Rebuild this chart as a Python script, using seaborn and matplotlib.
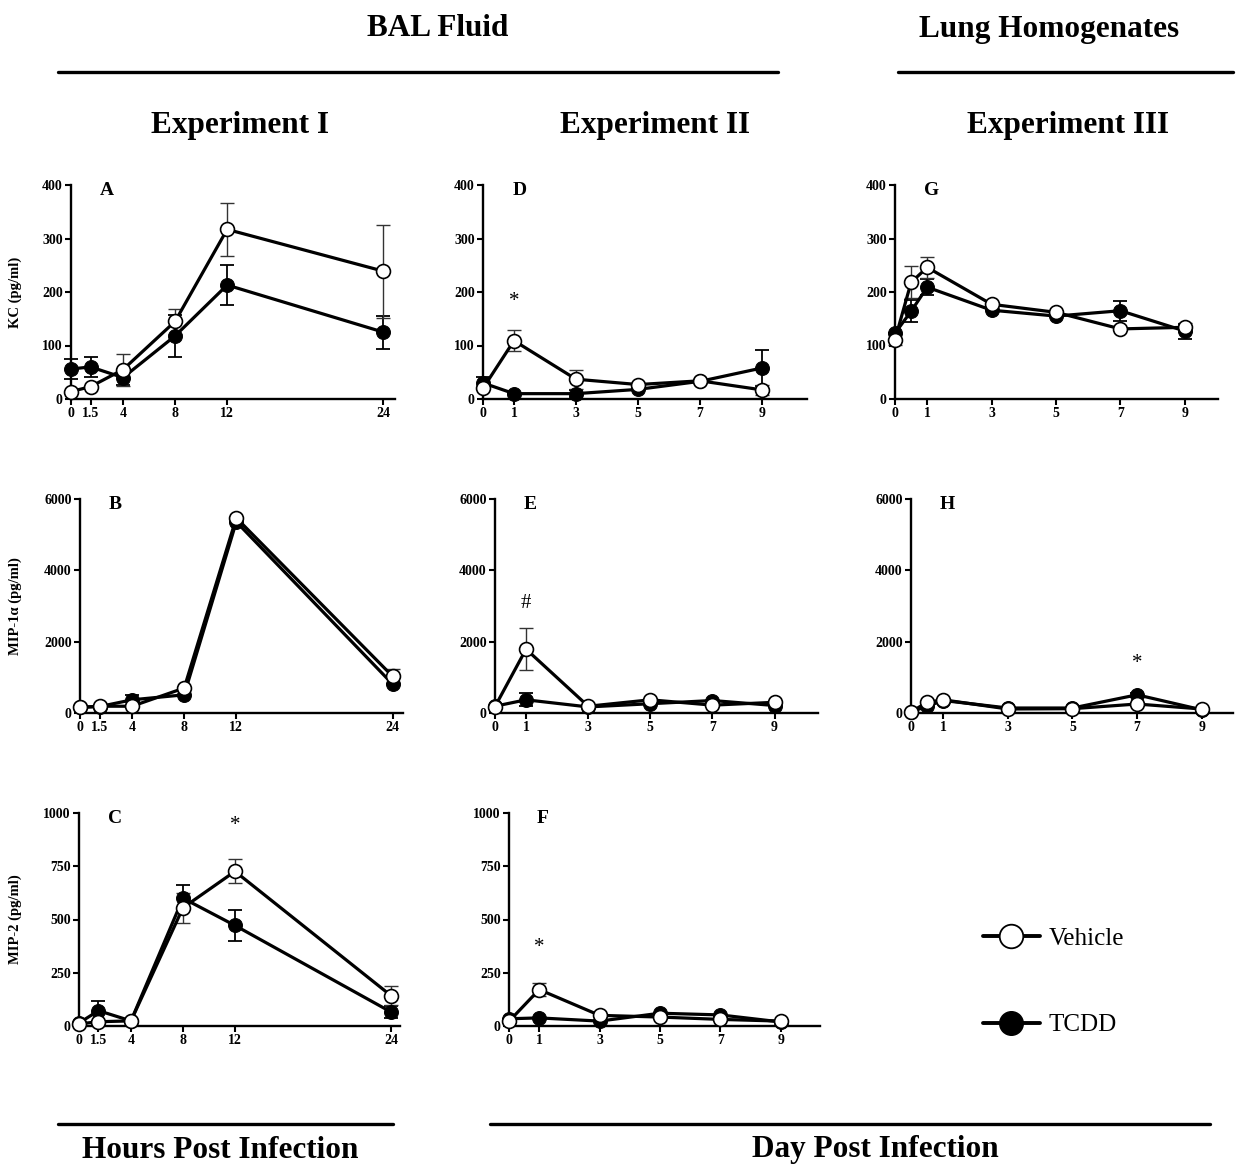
import matplotlib
matplotlib.use("Agg")
import matplotlib.pyplot as plt
from matplotlib.lines import Line2D
import pandas as pd
import seaborn as sns

sns.set_style("ticks")
plt.rcParams['font.family'] = ['Liberation Serif', 'DejaVu Serif']
plt.rcParams['font.weight'] = 'bold'
plt.rcParams['text.color'] = 'black'
plt.rcParams['axes.labelcolor'] = 'black'
plt.rcParams['axes.edgecolor'] = 'black'
plt.rcParams['xtick.color'] = 'black'
plt.rcParams['ytick.color'] = 'black'

hours = [0, 1.5, 4, 8, 12, 24]
days = [0, 1, 3, 5, 7, 9]
days_lung = [0, 0.5, 1, 3, 5, 7, 9]

# Experiment I (BAL, hours)
kc_veh_1 = [14, 23, 55, 145, 317, 239]
kc_veh_1_err = [0, 0, 30, 23, 50, 87]
kc_tcdd_1 = [56, 60, 40, 118, 213, 125]
kc_tcdd_1_err = [18, 18, 14, 39, 37, 31]

mip1a_veh_1 = [160, 190, 190, 700, 5470, 1030]
mip1a_veh_1_err = [0, 0, 0, 0, 0, 190]
mip1a_tcdd_1 = [160, 180, 370, 510, 5360, 810]
mip1a_tcdd_1_err = [0, 0, 140, 0, 0, 0]

mip2_veh_1 = [10, 20, 24, 555, 726, 143]
mip2_veh_1_err = [0, 0, 0, 70, 56, 44]
mip2_tcdd_1 = [14, 72, 24, 600, 472, 66]
mip2_tcdd_1_err = [0, 47, 0, 63, 74, 30]

# Experiment II (BAL, days)
kc_veh_2 = [20, 109, 37, 27, 34, 17]
kc_veh_2_err = [0, 20, 18, 0, 0, 10]
kc_tcdd_2 = [30, 10, 10, 18, 33, 58]
kc_tcdd_2_err = [12, 0, 6, 0, 0, 33]

mip1a_veh_2 = [180, 1790, 190, 370, 220, 300]
mip1a_veh_2_err = [0, 590, 0, 0, 0, 0]
mip1a_tcdd_2 = [190, 370, 170, 260, 350, 210]
mip1a_tcdd_2_err = [0, 180, 0, 0, 0, 0]

mip2_veh_2 = [22, 171, 50, 42, 31, 23]
mip2_veh_2_err = [0, 31, 0, 0, 0, 0]
mip2_tcdd_2 = [34, 38, 23, 60, 52, 19]
mip2_tcdd_2_err = [0, 0, 0, 0, 0, 0]

# Experiment III (lung homogenates, days)
kc_veh_3 = [111, 218, 246, 177, 162, 131, 134]
kc_veh_3_err = [10, 30, 20, 0, 0, 0, 8]
kc_tcdd_3 = [123, 164, 209, 166, 155, 165, 127]
kc_tcdd_3_err = [0, 21, 15, 0, 0, 19, 14]

mip1a_veh_3 = [30, 300, 370, 112, 121, 252, 112]
mip1a_veh_3_err = [0, 0, 0, 0, 0, 0, 0]
mip1a_tcdd_3 = [30, 190, 350, 140, 140, 510, 90]
mip1a_tcdd_3_err = [0, 0, 0, 0, 0, 50, 0]

fig = plt.figure(figsize=(12.36, 11.66), dpi=100)
W, H = 1236, 1166


def make_ax(left, right, top, bottom):
    return fig.add_axes([left / W, 1 - bottom / H, (right - left) / W, (bottom - top) / H])


def draw_panel(ax, x, veh, veh_err, tcdd, tcdd_err, xmax, yticks, xticks, letter, mark=None):
    df = pd.DataFrame({'x': x + x, 'y': tcdd + veh,
                       'group': ['TCDD'] * len(x) + ['Vehicle'] * len(x)})
    ax.errorbar(x, tcdd, yerr=tcdd_err, fmt='none', ecolor='black', elinewidth=1.3,
                capsize=4.8, capthick=1.3, zorder=2, clip_on=False)
    ax.errorbar(x, veh, yerr=veh_err, fmt='none', ecolor='#333333', elinewidth=1.0,
                capsize=4.8, capthick=1.0, zorder=2, clip_on=False)
    sns.lineplot(data=df[df.group == 'TCDD'], x='x', y='y', ax=ax, color='black', lw=2.3,
                 marker='o', markersize=10, markerfacecolor='black', markeredgecolor='black',
                 clip_on=False, zorder=3)
    sns.lineplot(data=df[df.group == 'Vehicle'], x='x', y='y', ax=ax, color='black', lw=2.3,
                 marker='o', markersize=10, markerfacecolor='white', markeredgecolor='black',
                 markeredgewidth=1.2, clip_on=False, zorder=4)
    ax.set_xlim(0, xmax)
    ax.set_ylim(0, yticks[-1])
    ax.set_yticks(yticks)
    ax.set_xticks(xticks)
    ax.set_xticklabels([f"{t:g}" for t in xticks])
    ax.set_xlabel('')
    ax.set_ylabel('')
    sns.despine(ax=ax)
    for s in ['left', 'bottom']:
        ax.spines[s].set_linewidth(1.7)
    ax.tick_params(direction='out', length=4, width=1.5, labelsize=10, pad=2)
    for lab in ax.get_xticklabels() + ax.get_yticklabels():
        lab.set_fontweight('bold')
    ax.text(0.09, 0.975, letter, transform=ax.transAxes, fontsize=14, fontweight='bold',
            ha='left', va='center')
    if mark is not None:
        ax.text(mark[0], mark[1], mark[2], fontsize=15, fontweight='normal',
                ha='center', va='center')


kc_ticks = [0, 100, 200, 300, 400]
mip1_ticks = [0, 2000, 4000, 6000]
mip2_ticks = [0, 250, 500, 750, 1000]

axA = make_ax(71, 395, 185, 399)
draw_panel(axA, hours, kc_veh_1, kc_veh_1_err, kc_tcdd_1, kc_tcdd_1_err, 24.9, kc_ticks, hours, 'A')
axA.set_ylabel('KC (pg/ml)', fontsize=10.5, fontweight='bold')
axA.yaxis.set_label_coords(-0.151, 0.5)

axD = make_ax(483, 807, 185, 399)
draw_panel(axD, days, kc_veh_2, kc_veh_2_err, kc_tcdd_2, kc_tcdd_2_err, 10.45, kc_ticks, days, 'D',
           mark=(1, 182, '*'))

axG = make_ax(895, 1218, 185, 399)
draw_panel(axG, days_lung, kc_veh_3, kc_veh_3_err, kc_tcdd_3, kc_tcdd_3_err, 10.03, kc_ticks, days, 'G')

axB = make_ax(80, 403, 499, 713)
draw_panel(axB, hours, mip1a_veh_1, mip1a_veh_1_err, mip1a_tcdd_1, mip1a_tcdd_1_err, 24.8, mip1_ticks,
           hours, 'B')
axB.set_ylabel('MIP-1\u03b1 (pg/ml)', fontsize=10.5, fontweight='bold')
axB.yaxis.set_label_coords(-0.18, 0.5)

axE = make_ax(495, 818, 499, 713)
draw_panel(axE, days, mip1a_veh_2, mip1a_veh_2_err, mip1a_tcdd_2, mip1a_tcdd_2_err, 10.4, mip1_ticks,
           days, 'E', mark=(1, 3080, '#'))

axH = make_ax(911, 1233, 499, 713)
draw_panel(axH, days_lung, mip1a_veh_3, mip1a_veh_3_err, mip1a_tcdd_3, mip1a_tcdd_3_err, 9.97,
           mip1_ticks, days, 'H', mark=(7, 1400, '*'))

axC = make_ax(79, 400, 813, 1026)
draw_panel(axC, hours, mip2_veh_1, mip2_veh_1_err, mip2_tcdd_1, mip2_tcdd_1_err, 24.7, mip2_ticks,
           hours, 'C', mark=(12, 940, '*'))
axC.set_ylabel('MIP-2 (pg/ml)', fontsize=10.5, fontweight='bold')
axC.yaxis.set_label_coords(-0.178, 0.5)

axF = make_ax(509, 820, 813, 1026)
draw_panel(axF, days, mip2_veh_2, mip2_veh_2_err, mip2_tcdd_2, mip2_tcdd_2_err, 10.3, mip2_ticks,
           days, 'F', mark=(1, 369, '*'))


# headers and footers
def hline(x0, x1, y):
    fig.add_artist(Line2D([x0 / W, x1 / W], [1 - y / H, 1 - y / H], color='black', lw=2.4))


def ftext(x, y, s):
    fig.text(x / W, 1 - y / H, s, fontsize=22.5, fontweight='bold', ha='center', va='center')


ftext(438, 29, 'BAL Fluid')
ftext(1049, 29, 'Lung Homogenates')
hline(58, 778, 72)
hline(898, 1233, 72)
ftext(240, 126, 'Experiment I')
ftext(655, 126, 'Experiment II')
ftext(1068, 126, 'Experiment III')
hline(58, 393, 1124)
hline(490, 1210, 1124)
ftext(220, 1150, 'Hours Post Infection')
ftext(875, 1150, 'Day Post Infection')

handles = [
    Line2D([], [], color='black', lw=2.8, marker='o', markersize=17, markerfacecolor='white',
           markeredgecolor='black', markeredgewidth=1.3),
    Line2D([], [], color='black', lw=2.8, marker='o', markersize=17, markerfacecolor='black',
           markeredgecolor='black'),
]
fig.legend(handles, ['Vehicle', 'TCDD'], loc='center left', bbox_to_anchor=(960 / W, 1 - 982 / H),
           frameon=False, handlelength=2.3, handletextpad=0.35, labelspacing=2.55,
           prop={'family': 'Liberation Serif', 'weight': 'normal', 'size': 18})

fig.savefig('out.png', dpi=100)
